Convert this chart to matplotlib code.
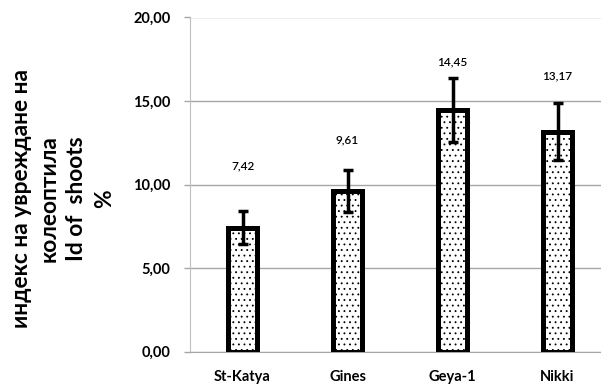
import numpy as np
import matplotlib
matplotlib.use("Agg")
import matplotlib.pyplot as plt

plt.rcParams['font.family'] = ['Lato', 'DejaVu Sans']
plt.rcParams['hatch.linewidth'] = 0.6
plt.rcParams['hatch.color'] = '#333333'

varieties = ['St-Katya', 'Gines', 'Geya-1', 'Nikki']
damage_index = [7.42, 9.61, 14.45, 13.17]
damage_err = [1.0, 1.26, 1.9, 1.72]

y_ticks = [0, 5, 10, 15, 20]
label_offsets = [62, 51, 48, 56]   # px above bar top

fig = plt.figure(figsize=(6.01, 3.85), dpi=100)
ax = fig.add_axes([190 / 601, 33.3 / 385, 420 / 601, 334.2 / 385])

x = np.arange(len(varieties))
ax.bar(x, damage_index, width=0.27, color='white', edgecolor='black',
       linewidth=3.6, hatch='...', zorder=3)
ax.errorbar(x, damage_index, yerr=damage_err, fmt='none', ecolor='black',
            elinewidth=2.5, capsize=3.5, capthick=2.5, zorder=4)

for xi, v, off in zip(x, damage_index, label_offsets):
    ax.annotate(f'{v:.2f}'.replace('.', ','), (xi, v), xytext=(0, off * 0.72),
                textcoords='offset points', ha='center', va='center',
                fontsize=8.5, fontweight='semibold')

ax.set_xlim(-0.5, 3.5)
ax.set_ylim(0, 20)
ax.set_yticks(y_ticks)
ax.set_yticklabels([f'{t:.2f}'.replace('.', ',') for t in y_ticks])
ax.set_xticks(x)
ax.set_xticklabels(varieties)
ax.tick_params(axis='y', length=4, width=1, color='#a6a6a6', pad=10,
               labelsize=10.5, labelcolor='black')
ax.tick_params(axis='x', length=0, pad=13, labelsize=10.5)
for lab in ax.get_xticklabels() + ax.get_yticklabels():
    lab.set_fontweight('bold')

ax.grid(axis='y', color='#a6a6a6', linewidth=1, zorder=0)
for s in ['top', 'right']:
    ax.spines[s].set_visible(False)
ax.spines['left'].set_color('#bfbfbf')
ax.spines['bottom'].set_color('#a6a6a6')

fig.text(63 / 601, 0.484,
         'индекс на увреждане на\nколеоптила\nId of  shoots\n%',
         rotation=90, ha='center', va='center', multialignment='center',
         fontsize=16.4, fontweight='bold', linespacing=1.38)

fig.savefig('out.png', dpi=100)
